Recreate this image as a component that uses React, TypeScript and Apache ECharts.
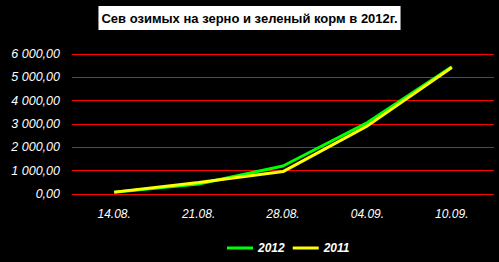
import React, { useEffect, useRef } from "react";
import * as echarts from "echarts";

const categories = ["14.08.", "21.08.", "28.08.", "04.09.", "10.09."];
const series2012 = [80, 430, 1200, 3060, 5450];
const series2011 = [80, 490, 960, 2920, 5420];
const yTicks = [0, 1000, 2000, 3000, 4000, 5000, 6000];

function fmt(v: number): string {
  const s = Math.round(v).toString();
  const th = s.length > 3 ? s.slice(0, s.length - 3) + " " + s.slice(s.length - 3) : s;
  return th + ",00";
}

export default function App() {
  const ref = useRef<HTMLDivElement>(null);
  useEffect(() => {
    if (!ref.current) return;
    const chart = echarts.init(ref.current, undefined, { renderer: "svg" });
    chart.setOption({
      animation: false,
      backgroundColor: "#000000",
      title: {
        text: "Сев озимых на зерно и зеленый корм в 2012г.",
        left: "center",
        top: 6,
        backgroundColor: "#ffffff",
        padding: [6, 3, 5, 3],
        textStyle: {
          color: "#000000",
          fontFamily: "Arial, Liberation Sans",
          fontWeight: "bold",
          fontSize: 13,
        },
      },
      legend: {
        bottom: 3,
        left: 222,
        itemWidth: 26,
        itemHeight: 3,
        itemGap: 8,
        icon: "rect",
        textStyle: {
          color: "#ffffff",
          fontFamily: "Arial, Liberation Sans",
          fontWeight: "bold",
          fontStyle: "italic",
          fontSize: 12,
        },
        data: ["2012", "2011"],
      },
      grid: { left: 72, right: 5, top: 54, bottom: 68 },
      xAxis: {
        type: "category",
        data: categories,
        boundaryGap: true,
        axisLine: { show: false },
        axisTick: { show: false },
        axisLabel: {
          color: "#ffffff",
          fontFamily: "Arial, Liberation Sans",
          fontStyle: "italic",
          fontSize: 12,
          margin: 14,
        },
      },
      yAxis: {
        type: "value",
        min: yTicks[0],
        max: yTicks[yTicks.length - 1],
        interval: 1000,
        axisLine: { show: false },
        axisTick: { show: false },
        splitLine: { lineStyle: { color: "#ff0000", width: 1 } },
        axisLabel: {
          color: "#ffffff",
          fontFamily: "Arial, Liberation Sans",
          fontStyle: "italic",
          fontSize: 12.5,
          margin: 12,
          formatter: (v: number) => fmt(v),
        },
      },
      series: [
        {
          name: "2012",
          type: "line",
          data: series2012,
          showSymbol: false,
          symbol: "none",
          lineStyle: { color: "#00ff00", width: 3 },
          itemStyle: { color: "#00ff00" },
        },
        {
          name: "2011",
          type: "line",
          data: series2011,
          showSymbol: false,
          symbol: "none",
          lineStyle: { color: "#ffff00", width: 3 },
          itemStyle: { color: "#ffff00" },
        },
      ],
    });
    return () => chart.dispose();
  }, []);
  return (
    <div
      ref={ref}
      style={{ width: 499, height: 262, position: "absolute", left: 0, top: 0 }}
    />
  );
}
